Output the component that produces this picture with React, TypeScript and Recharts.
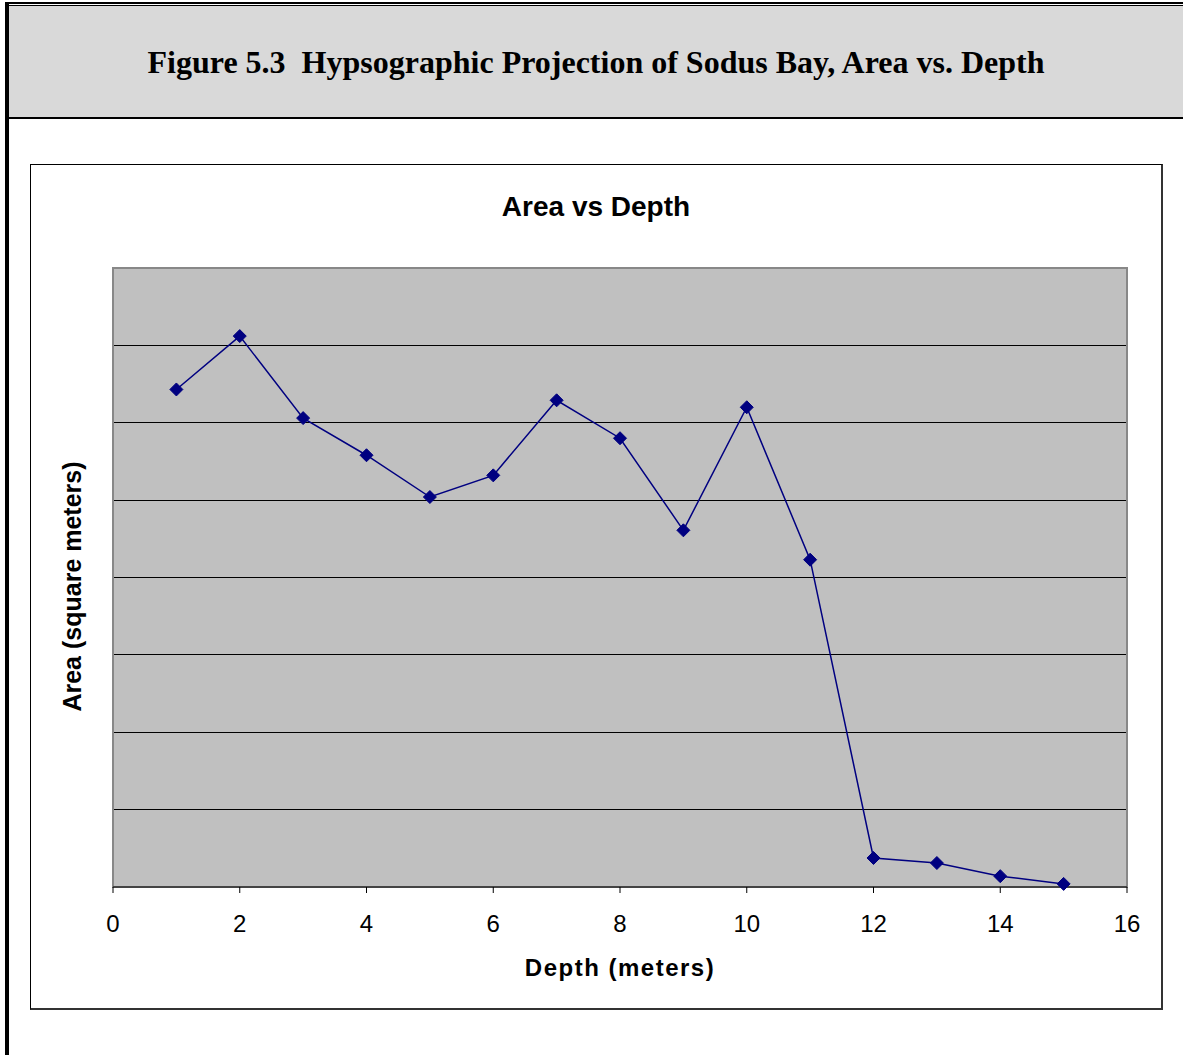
import { CartesianGrid, Label, Line, LineChart, ReferenceArea, XAxis, YAxis } from "recharts";

const DEPTHS = [1, 2, 3, 4, 5, 6, 7, 8, 9, 10, 11, 12, 13, 14, 15];
const AREAS = [
  643000, 712000, 606000, 558000, 504000, 532000, 629000, 580000, 461000, 620000, 423000, 37500,
  31000, 14000, 4000,
];
const X_TICKS = [0, 2, 4, 6, 8, 10, 12, 14, 16];
const Y_GRID = [100000, 200000, 300000, 400000, 500000, 600000, 700000];

const data = DEPTHS.map((d, i) => ({ depth: d, area: AREAS[i] }));

const SANS = '"Liberation Sans", Arial, sans-serif';
const NAVY = "#000080";

function Diamond(props: any) {
  const { cx, cy, index } = props;
  if (cx == null || cy == null) return null;
  const r = 6.5;
  return (
    <polygon
      key={`d-${index}`}
      points={`${cx},${cy - r} ${cx + r},${cy} ${cx},${cy + r} ${cx - r},${cy}`}
      fill={NAVY}
      stroke={NAVY}
      strokeWidth={1}
    />
  );
}

// y title, drawn by hand so it can sit a little below the plot centre
function YTitle(props: any) {
  const vb = props.viewBox || {};
  const x = (vb.x ?? 0) + 41;
  const y = (vb.y ?? 0) + (vb.height ?? 0) / 2 + 9;
  return (
    <text
      x={x}
      y={y}
      transform={`rotate(-90, ${x}, ${y})`}
      textAnchor="middle"
      dominantBaseline="central"
      fontFamily={SANS}
      fontWeight="bold"
      fontSize={25}
      fill="#000"
    >
      Area (square meters)
    </text>
  );
}

export default function App() {
  return (
    <div style={{ position: "absolute", left: 0, top: 0, width: 1183, height: 1055, background: "#fff" }}>
      {/* outer frame */}
      <div style={{ position: "absolute", left: 5, top: 2, width: 1178, height: 2, background: "#000" }} />
      <div style={{ position: "absolute", left: 5, top: 2, width: 4, height: 1053, background: "#000" }} />
      <div
        style={{
          position: "absolute",
          left: 9,
          top: 5,
          width: 1174,
          height: 114,
          background: "#d9d9d9",
          borderTop: "1px solid #000",
          borderBottom: "2px solid #000",
          display: "flex",
          alignItems: "center",
          justifyContent: "center",
          fontFamily: '"Liberation Serif", "Times New Roman", serif',
          fontWeight: "bold",
          fontSize: 32,
          whiteSpace: "pre",
          boxSizing: "border-box",
          paddingTop: 2,
        }}
      >
        {"Figure 5.3  Hypsographic Projection of Sodus Bay, Area vs. Depth"}
      </div>

      {/* chart box */}
      <div
        style={{
          position: "absolute",
          left: 30,
          top: 164,
          width: 1133,
          height: 846,
          boxSizing: "border-box",
          borderTop: "1px solid #000",
          borderLeft: "1px solid #000",
          borderRight: "2px solid #333",
          borderBottom: "2px solid #333",
        }}
      >
        <div
          style={{
            position: "absolute",
            left: 0,
            top: 26,
            width: 1130,
            textAlign: "center",
            fontFamily: SANS,
            fontWeight: "bold",
            fontSize: 28,
          }}
        >
          Area vs Depth
        </div>
        <LineChart
          width={1130}
          height={843}
          data={data}
          margin={{ top: 103, right: 34, left: 0, bottom: 0 }}
        >
          <CartesianGrid
            vertical={false}
            stroke="#000"
            strokeWidth={1}
            fill="#c0c0c0"
            fillOpacity={1}
            shapeRendering="crispEdges"
          />
          <ReferenceArea
            x1={0}
            x2={16}
            y1={0}
            y2={800000}
            fill="none"
            stroke="#888"
            strokeWidth={2}
          />
          <XAxis
            dataKey="depth"
            type="number"
            domain={[0, 16]}
            ticks={X_TICKS}
            interval={0}
            height={121}
            tickSize={6}
            tickMargin={22}
            axisLine={{ stroke: "#000", strokeWidth: 1 }}
            tickLine={{ stroke: "#000" }}
            tick={{ fontSize: 24, fill: "#000", fontFamily: SANS }}
          >
            <Label
              value="Depth (meters)"
              position="insideBottom"
              offset={32}
              style={{ fontSize: 24, fontWeight: "bold", fill: "#000", fontFamily: SANS, letterSpacing: 1.5 }}
            />
          </XAxis>
          <YAxis
            type="number"
            domain={[0, 800000]}
            ticks={Y_GRID}
            interval={0}
            width={82}
            tick={() => <g />}
            tickLine={false}
            axisLine={false}
          >
            <Label content={<YTitle />} />
          </YAxis>
          <Line
            type="linear"
            dataKey="area"
            stroke={NAVY}
            strokeWidth={1.5}
            dot={<Diamond />}
            activeDot={false}
            isAnimationActive={false}
          />
        </LineChart>
      </div>
    </div>
  );
}
